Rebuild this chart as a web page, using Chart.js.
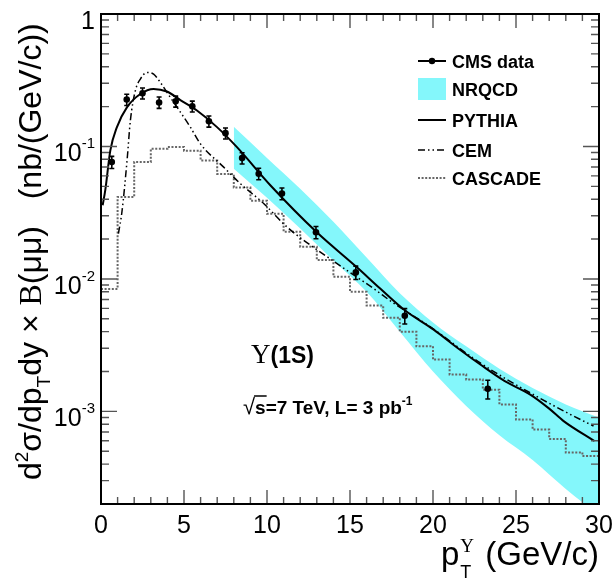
<!DOCTYPE html>
<html><head><meta charset="utf-8">
<script src="https://cdn.jsdelivr.net/npm/chart.js@4.4.0/dist/chart.umd.min.js"></script>
<style>html,body{margin:0;padding:0;background:#fff;}</style>
</head><body>
<canvas id="c" width="616" height="578"></canvas>
<script>
// ---------------- data ----------------
const cmsPt  = [0.65,1.55,2.5,3.5,4.5,5.5,6.5,7.5,8.5,9.5,10.9,12.95,15.35,18.3,23.3];
const cmsVal = [0.0762,0.226,0.252,0.215,0.219,0.201,0.155,0.126,0.0817,0.0623,0.0441,0.0225,0.0112,0.00527,0.00148];
const cmsErr = [0.008,0.022,0.024,0.021,0.021,0.019,0.015,0.012,0.008,0.0062,0.0045,0.0024,0.0013,0.0007,0.00024];

const pythiaPt  = [0.1,0.26,0.56,0.96,1.57,2.37,3.17,3.97,4.78,5.78,6.99,8.19,10.2,13,15.4,16.8,18.3,20.04,21.5,22.85,24.3,25.86,27.0,27.87,29.73];
const pythiaVal = [0.036,0.047,0.093,0.14,0.198,0.249,0.272,0.26,0.224,0.187,0.14,0.0988,0.051,0.0225,0.0123,0.0085,0.0058,0.00414,0.0030,0.00226,0.0017,0.00134,0.00105,0.000845,0.000598];

const cemPt  = [1.05,1.26,1.57,1.77,2.07,2.37,2.77,3.17,3.57,4.17,4.58,5.38,5.98,7.39,8.39,9.8,11.2,14.2,16.4,17.6,19.8,22.85,25.86,28.07,29.67];
const cemVal = [0.022,0.032,0.0785,0.157,0.264,0.323,0.362,0.352,0.305,0.235,0.198,0.14,0.105,0.0698,0.0525,0.0371,0.0247,0.0131,0.0085,0.0066,0.00438,0.00232,0.00138,0.000978,0.000776];

const cascadeEdges = [0,1,2,3,4,5,6,7,8,9,10,11,12,13,14,15,16,17,18,19,20,21,22,23,24,25,26,27,28,29,30];
const cascadeVal   = [0.0084,0.0416,0.0762,0.096,0.099,0.093,0.0785,0.062,0.049,0.039,0.031,0.0227,0.0175,0.0139,0.0104,0.008,0.0063,0.0051,0.0040,0.0031,0.00246,0.0019,0.00174,0.00146,0.00113,0.00087,0.00073,0.00062,0.00049,0.00046];

const nrqcdPt = [8,10,12,14,16,18,20,22,24,26,28,30];
const nrqcdHi = [0.141,0.082,0.048,0.027,0.0145,0.0078,0.0047,0.0031,0.0021,0.0015,0.00113,0.0009];
const nrqcdLo = [0.068,0.041,0.024,0.0138,0.0080,0.0040,0.0020,0.0011,0.00066,0.00043,0.00026,0.000165];

const xTickLabels = ['0','5','10','15','20','25','30'];
const xTickValues = [0,5,10,15,20,25,30];
const yTickValues = [1,0.1,0.01,0.001];
const yTickLabels = [['1',''],['10','-1'],['10','-2'],['10','-3']];
const legendLabels = ['CMS data','NRQCD','PYTHIA','CEM','CASCADE'];

// ---------------- styles ----------------
const CYAN = '#84f7fb';
const SANS = '"Liberation Sans", Arial, Helvetica, sans-serif';
const SERIF = '"Liberation Serif", "Times New Roman", serif';
const CEM_DASH = [7,3,1.5,3,1.5,3];
const CAS_DASH = [2,1.6];

const pts = (xs, ys) => xs.map((x,i)=>({x, y: ys[i]}));
const cascadePts = cascadeEdges.map((e,i)=>({x:e, y: cascadeVal[Math.min(i, cascadeVal.length-1)]}));

function drawRich(ctx, segs, x, y){
  for (const s of segs){
    ctx.font = s.f;
    ctx.fillText(s.t, x, y + (s.dy||0));
    x += ctx.measureText(s.t).width + (s.dx||0);
  }
  return x;
}
function richWidth(ctx, segs){
  let w=0;
  for (const s of segs){ ctx.font=s.f; w += ctx.measureText(s.t).width + (s.dx||0); }
  return w;
}

const deco = {
  id:'deco',
  afterDatasetsDraw(chart){
    const {ctx, scales:{x,y}} = chart;
    ctx.save();
    ctx.strokeStyle='#000'; ctx.lineWidth=1.6; ctx.setLineDash([]);
    cmsPt.forEach((p,i)=>{
      const px = x.getPixelForValue(p);
      const y1 = y.getPixelForValue(cmsVal[i]+cmsErr[i]);
      const y2 = y.getPixelForValue(cmsVal[i]-cmsErr[i]);
      ctx.beginPath(); ctx.moveTo(px,y1); ctx.lineTo(px,y2); ctx.stroke();
      ctx.beginPath(); ctx.moveTo(px-2.5,y1); ctx.lineTo(px+2.5,y1); ctx.moveTo(px-2.5,y2); ctx.lineTo(px+2.5,y2); ctx.stroke();
    });
    ctx.restore();
  },
  afterDraw(chart){
    const {ctx, chartArea:a, scales:{x,y}} = chart;
    ctx.save();
    // ticks
    ctx.strokeStyle='#555'; ctx.lineWidth=1.4; ctx.setLineDash([]);
    ctx.beginPath();
    for (let v=0; v<=30; v++){
      const px = x.getPixelForValue(v);
      const L = (v%5===0)?14:7;
      ctx.moveTo(px,a.bottom); ctx.lineTo(px,a.bottom-L);
      ctx.moveTo(px,a.top); ctx.lineTo(px,a.top+L);
    }
    for (let e=-4; e<=0; e++){
      for (let m=1; m<=9; m++){
        const v = m*Math.pow(10,e);
        if (v < y.min*0.999 || v > y.max*1.001) continue;
        const py = y.getPixelForValue(v);
        const L = (m===1)?16:8;
        ctx.moveTo(a.left,py); ctx.lineTo(a.left+L,py);
        ctx.moveTo(a.right,py); ctx.lineTo(a.right-L,py);
      }
    }
    ctx.stroke();
    // frame
    ctx.strokeStyle='#000'; ctx.lineWidth=2;
    ctx.strokeRect(a.left, a.top, a.right-a.left, a.bottom-a.top);

    ctx.fillStyle='#000';
    // x tick labels
    ctx.font = `25px ${SANS}`; ctx.textAlign='center'; ctx.textBaseline='alphabetic';
    xTickValues.forEach((v,i)=> ctx.fillText(xTickLabels[i], x.getPixelForValue(v), 533));
    // y tick labels
    ctx.textAlign='left';
    yTickValues.forEach((v,i)=>{
      const py = y.getPixelForValue(v);
      const [m, s] = yTickLabels[i];
      const segs = [{t:m, f:`25px ${SANS}`}];
      if (s) segs.push({t:s, f:`15px ${SANS}`, dy:-13});
      const w = richWidth(ctx, segs);
      drawRich(ctx, segs, 95 - w, py + 15);
    });
    // x title
    {
      ctx.font = `33px ${SANS}`;
      const wp = ctx.measureText('p').width;
      const wRest = ctx.measureText('(GeV/c)').width;
      const xEnd = 599;
      const gap = 26;
      const x0 = xEnd - wRest - gap - wp;
      ctx.fillText('p', x0, 565);
      ctx.font = `18px ${SANS}`; ctx.fillText('T', x0+wp+1, 578);
      ctx.font = `19px ${SERIF}`; ctx.fillText('Υ', x0+wp+1, 552);
      ctx.font = `33px ${SANS}`; ctx.fillText('(GeV/c)', x0+wp+gap, 565);
    }
    // y title
    {
      const F = 32, f2 = 19;
      const segs = [
        {t:'d', f:`${F}px ${SANS}`},
        {t:'2', f:`${f2}px ${SANS}`, dy:-13},
        {t:'σ/dp', f:`${F}px ${SANS}`},
        {t:'T', f:`${f2}px ${SANS}`, dy:9},
        {t:'dy × ', f:`${F}px ${SANS}`},
        {t:'B', f:`${F}px ${SERIF}`},
        {t:'(μμ)   (nb/(GeV/c))', f:`${F}px ${SANS}`}
      ];
      ctx.save();
      ctx.translate(41, 480);
      ctx.rotate(-Math.PI/2);
      drawRich(ctx, segs, 0, 0);
      ctx.restore();
    }
    // Upsilon(1S)
    {
      ctx.font = `27px ${SERIF}`; ctx.fillText('Υ', 251, 363);
      const w = ctx.measureText('Υ').width;
      ctx.font = `bold 23px ${SANS}`; ctx.fillText('(1S)', 251+w, 363);
    }
    // sqrt s
    {
      const bx = 243, by = 414;
      ctx.font = `22px ${SANS}`; ctx.fillText('√', bx, by);
      const wr = ctx.measureText('√').width;
      ctx.font = `bold 19px ${SANS}`;
      const ws = ctx.measureText('s').width;
      ctx.fillText('s=7 TeV, L= 3 pb', bx+wr, by);
      const wt = ctx.measureText('s=7 TeV, L= 3 pb').width;
      ctx.font = `bold 12px ${SANS}`; ctx.fillText('-1', bx+wr+wt, by-9);
      ctx.lineWidth=1.5; ctx.strokeStyle='#000';
      ctx.beginPath(); ctx.moveTo(bx+wr-1, by-18); ctx.lineTo(bx+wr+ws+1, by-18); ctx.stroke();
    }
    // legend
    {
      const lx0 = 418, lx1 = 446, tx = 452;
      const ys = [61, 89, 120, 150, 178];
      ctx.font = `bold 18px ${SANS}`; ctx.textAlign='left';
      ctx.strokeStyle='#000'; ctx.lineWidth=2; ctx.setLineDash([]);
      ctx.beginPath(); ctx.moveTo(lx0, ys[0]); ctx.lineTo(lx1, ys[0]); ctx.stroke();
      ctx.beginPath(); ctx.arc((lx0+lx1)/2, ys[0], 3.2, 0, Math.PI*2); ctx.fill();
      ctx.fillStyle=CYAN; ctx.fillRect(lx0, 78, lx1-lx0, 22); ctx.fillStyle='#000';
      ctx.beginPath(); ctx.moveTo(lx0, ys[2]); ctx.lineTo(lx1, ys[2]); ctx.stroke();
      ctx.lineWidth=1.5; ctx.setLineDash(CEM_DASH);
      ctx.beginPath(); ctx.moveTo(lx0, ys[3]); ctx.lineTo(lx1, ys[3]); ctx.stroke();
      ctx.strokeStyle='#666'; ctx.lineWidth=2; ctx.setLineDash(CAS_DASH);
      ctx.beginPath(); ctx.moveTo(lx0, ys[4]); ctx.lineTo(lx1, ys[4]); ctx.stroke();
      ctx.setLineDash([]);
      legendLabels.forEach((t,i)=> ctx.fillText(t, tx, ys[i]+7));
    }
    ctx.restore();
  }
};

new Chart(document.getElementById('c'), {
  type:'line',
  data:{ datasets:[
    { label:'CMS data', data: pts(cmsPt, cmsVal), showLine:false, pointRadius:3.3, pointBackgroundColor:'#000', pointBorderColor:'#000', pointBorderWidth:0, order:0 },
    { label:'PYTHIA', data: pts(pythiaPt, pythiaVal), borderColor:'#000', borderWidth:2, pointRadius:0, cubicInterpolationMode:'monotone', fill:false, order:1 },
    { label:'CEM', data: pts(cemPt, cemVal), borderColor:'#000', borderWidth:1.5, borderDash:CEM_DASH, pointRadius:0, cubicInterpolationMode:'monotone', fill:false, order:2 },
    { label:'CASCADE', data: cascadePts, borderColor:'#666', borderWidth:2, borderDash:CAS_DASH, stepped:'before', pointRadius:0, fill:false, order:3 },
    { label:'NRQCD hi', data: pts(nrqcdPt, nrqcdHi), borderWidth:0, borderColor:CYAN, backgroundColor:CYAN, pointRadius:0, cubicInterpolationMode:'monotone', fill:'+1', order:5 },
    { label:'NRQCD lo', data: pts(nrqcdPt, nrqcdLo), borderWidth:0, borderColor:CYAN, backgroundColor:CYAN, pointRadius:0, cubicInterpolationMode:'monotone', fill:false, order:6 }
  ]},
  options:{
    responsive:false, animation:false, devicePixelRatio:1,
    layout:{ padding:{left:101, right:17, top:14, bottom:74} },
    plugins:{ legend:{display:false}, tooltip:{enabled:false} },
    scales:{
      x:{ type:'linear', min:0, max:30, display:false },
      y:{ type:'logarithmic', min:2e-4, max:1, display:false }
    }
  },
  plugins:[deco]
});
</script>
</body></html>
